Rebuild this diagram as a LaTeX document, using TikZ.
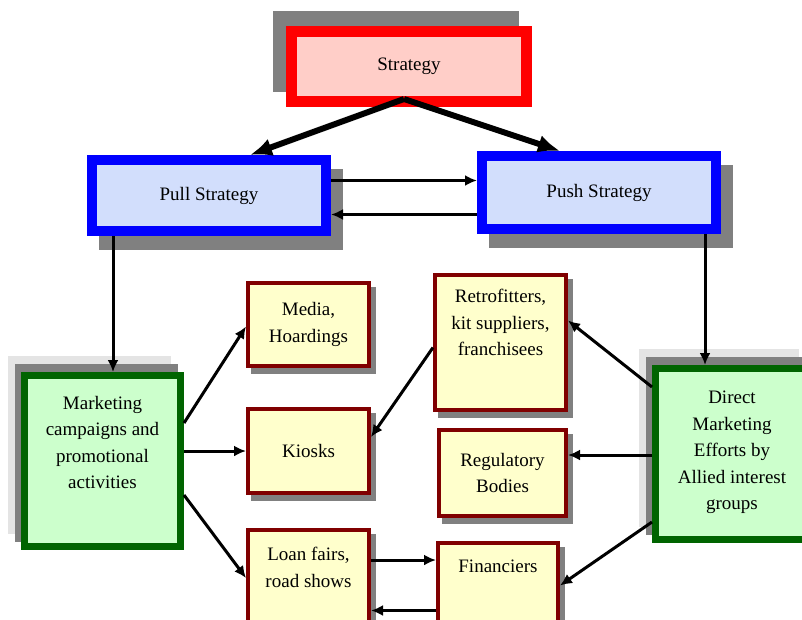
\documentclass[tikz,border=0pt]{standalone}
\usepackage{fontspec}
\setmainfont{Liberation Serif}
\usepackage{tikz}
\usetikzlibrary{arrows.meta, positioning, shadows}
\definecolor{stratred}{RGB}{255, 0, 0}
\definecolor{stratfill}{RGB}{255, 206, 200}
\definecolor{sideblue}{RGB}{0, 0, 255}
\definecolor{sidefill}{RGB}{210, 222, 252}
\definecolor{actgreen}{RGB}{0, 100, 0}
\definecolor{actfill}{RGB}{204, 255, 204}
\definecolor{agentred}{RGB}{128, 0, 0}
\definecolor{agentfill}{RGB}{255, 255, 204}
\definecolor{shadegray}{RGB}{128, 128, 128}
\definecolor{shadelight}{RGB}{228, 228, 228}

\begin{document}
\begin{tikzpicture}[x=1pt, y=-1pt,
    every node/.style={font=\fontsize{19}{26.5}\selectfont, align=center},
    stratbox/.style={draw=stratred, fill=stratfill, line width=11pt,
      general shadow={draw=shadegray, fill=shadegray, line width=11pt,
        shadow xshift=-13pt, shadow yshift=15.5pt}},
    sidebox/.style={draw=sideblue, fill=sidefill, line width=10pt,
      minimum width=234pt,
      general shadow={draw=shadegray, fill=shadegray, line width=10pt,
        shadow xshift=12pt, shadow yshift=-14pt}},
    actbox/.style={draw=actgreen, fill=actfill, line width=7pt,
      general shadow={draw=shadelight, fill=shadelight, line width=7pt,
        shadow xshift=-13pt, shadow yshift=16pt},
      general shadow={draw=shadegray, fill=shadegray, line width=7pt,
        shadow xshift=-6pt, shadow yshift=8pt}},
    agentbox/.style={draw=agentred, fill=agentfill, line width=4pt,
      general shadow={draw=shadegray, fill=shadegray, line width=4pt,
        shadow xshift=5pt, shadow yshift=-6pt}},
    boxtext/.style={inner sep=0pt},
    mainlink/.style={-{Latex[length=22pt, width=18pt]}, line width=6pt},
    link/.style={-{Latex[length=12pt, width=11pt]}, line width=3pt}]
    \useasboundingbox (0,0) rectangle (802,619);

    %% strategy level
    \node[stratbox, minimum width=235pt, minimum height=70pt] (strat) at (409,66.5) {Strategy};
    \node[sidebox, minimum height=71pt] (pull) at (209,195.5) {Pull Strategy};
    \node[sidebox, minimum height=73pt] (push) at (599,192.5) {Push Strategy};

    %% activity boxes
    \node[actbox, minimum width=156pt, minimum height=171pt] (mkt) at (102.5,461) {};
    \node[boxtext, below=24pt of mkt.north] (mkttext)
      {Marketing\\campaigns and\\promotional\\activities};
    \node[actbox, minimum width=153pt, minimum height=171pt] (dir) at (732,454) {};
    \node[boxtext, below=26pt of dir.north] (dirtext)
      {Direct\\Marketing\\Efforts by\\Allied interest\\groups};

    %% channels
    \node[agentbox, minimum width=121pt, minimum height=83pt] (media) at (308.5,324.5) {Media,\\Hoardings};
    \node[agentbox, minimum width=121pt, minimum height=84pt] (kiosk) at (308.5,451) {Kiosks};
    \node[agentbox, minimum width=121pt, minimum height=118pt] (loan) at (308.5,589) {};
    \node[boxtext, below=19pt of loan.north] (loantext) {Loan fairs,\\road shows};
    \node[agentbox, minimum width=131pt, minimum height=135pt] (retro) at (500.5,342.5) {};
    \node[boxtext, below=16pt of retro.north] (retrotext)
      {Retrofitters,\\kit suppliers,\\franchisees};
    \node[agentbox, minimum width=127pt, minimum height=86pt] (reg) at (502.5,473) {Regulatory\\Bodies};
    \node[agentbox, minimum width=120pt, minimum height=105pt] (fin) at (498,595.5) {};
    \node[boxtext, below=19pt of fin.north] (fintext) {Financiers};

    %% strategy split
    \draw[mainlink] ([shift={(-5pt,8pt)}]strat.south) -- ([xshift=41pt]pull.north);
    \draw[mainlink] ([shift={(-5pt,8pt)}]strat.south) -- ([xshift=-39pt]push.north);
    \draw[link] ([yshift=15pt]pull.east) -- ([yshift=15pt]pull.east -| push.west);
    \draw[link] ([yshift=-22pt]push.west) -- ([yshift=-22pt]push.west -| pull.east);
    \draw[link] ([xshift=-96pt]pull.south) -- ([xshift=-96pt]pull.south |- mkt.north);
    \draw[link] ([xshift=106pt]push.south) -- ([xshift=106pt]push.south |- dir.north);

    %% pull side
    \draw[link] ([yshift=38pt]mkt.east) -- ([yshift=-2pt]media.west);
    \draw[link] (kiosk.west -| mkt.east) -- (kiosk.west);
    \draw[link] ([yshift=-34pt]mkt.east) -- ([yshift=11pt]loan.west);
    \draw[link] ([yshift=29pt]loan.east) -- ([yshift=29pt]loan.east -| fin.west);
    \draw[link] ([yshift=-15pt]fin.west) -- ([yshift=-15pt]fin.west -| loan.east);

    %% push side
    \draw[link] ([yshift=67pt]dir.west) -- ([yshift=22pt]retro.east);
    \draw[link] ([yshift=18pt]reg.east -| dir.west) -- ([yshift=18pt]reg.east);
    \draw[link] ([yshift=-68pt]dir.west) -- ([yshift=10pt]fin.east);
    \draw[link] ([yshift=-5pt]retro.west) -- ([yshift=14pt]kiosk.east);
\end{tikzpicture}
\end{document}
